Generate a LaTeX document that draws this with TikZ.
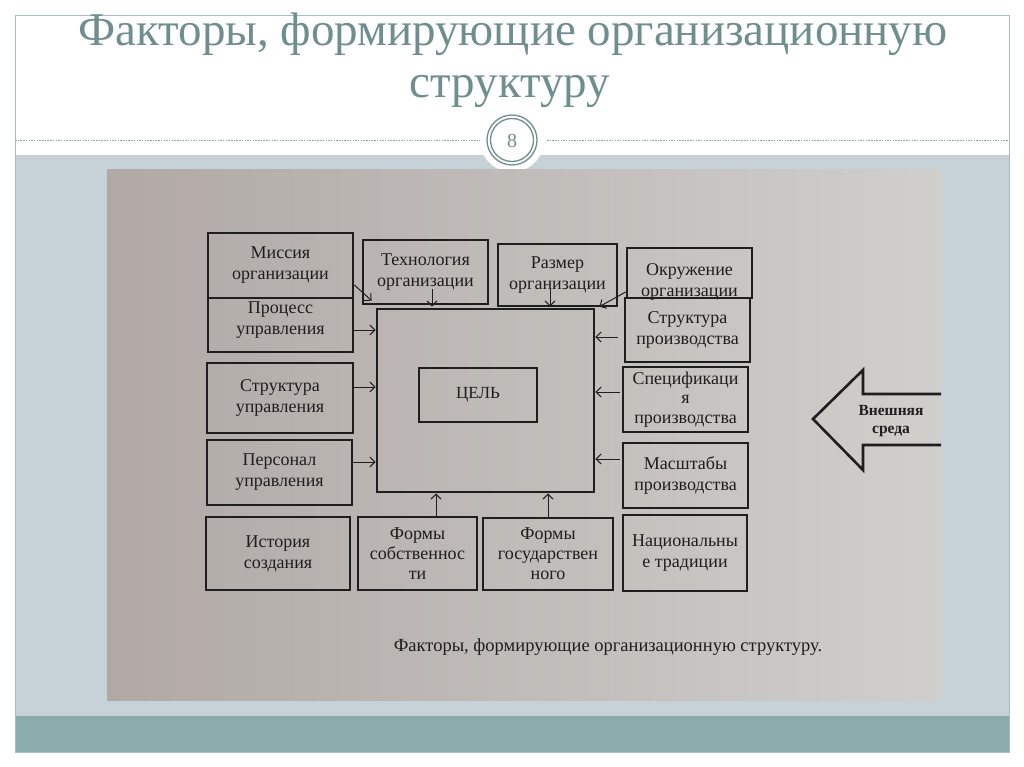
\documentclass[tikz,border=0pt]{standalone}
\usepackage{fontspec}
\setmainfont{Liberation Serif}
\newfontfamily\titlefont{Liberation Serif}
\usetikzlibrary{arrows.meta}
\definecolor{band}{HTML}{C6D2D8}
\definecolor{tealband}{HTML}{8AACAC}
\definecolor{titlec}{HTML}{6F8E8E}
\definecolor{framec}{HTML}{A9BCC3}
\definecolor{dashc}{HTML}{8FA6A6}
\definecolor{paperL}{HTML}{B0A9A5}
\definecolor{paperM}{HTML}{C9C7C4}
\definecolor{paperR}{HTML}{D0CFCC}
\definecolor{ink}{HTML}{1E1E1E}
\tikzset{
  box/.style={draw=ink, line width=2.7pt, inner sep=0pt, align=center,
    text=ink, font=\fontsize{18}{21}\selectfont},
  txt/.style={inner sep=0pt, align=center, text=ink,
    font=\fontsize{18}{21}\selectfont},
  arr/.style={draw=ink, line width=1pt, -{Straight Barb[length=5pt,width=10pt]}},
}
\begin{document}
\begin{tikzpicture}[x=1pt,y=-1pt]
\useasboundingbox (0,0) rectangle (1024,767);
\fill[white] (0,0) rectangle (1024,767);
\fill[band] (15,155) rectangle (1009,716);
\fill[tealband] (15,716) rectangle (1009,752);
\draw[framec, line width=0.8pt] (15,15) rectangle (1009,752);
\draw[dashc, line width=0.8pt, dash pattern=on 1.5pt off 1.2pt] (15,140) -- (480,140);
\draw[dashc, line width=0.8pt, dash pattern=on 1.5pt off 1.2pt] (547,140) -- (1009,140);
\fill[white] (512,140) circle (32);
\draw[titlec, line width=1.3pt] (512,140) circle (25);
\draw[titlec, line width=1.3pt] (512,140) circle (21.5);
\node[text=titlec, font=\fontsize{20}{20}\selectfont] (pg) at (512,141) {8};
% titles
\node[text=titlec, font=\titlefont\fontsize{47}{47}\selectfont, anchor=base, inner sep=0pt] (t1) at (513,46) {Факторы, формирующие организационную};
\node[text=titlec, font=\titlefont\fontsize{47}{47}\selectfont, anchor=base, inner sep=0pt] (t2) at (510,98) {структуру};
% photo
\shade[left color=paperL, middle color=paperM, right color=paperR] (107,170) rectangle (941,700);
% boxes
\node[box, minimum width=145pt, minimum height=65pt] (mis) at (280.5,265.5) {Миссия\\организации};
\node[box, minimum width=145pt, minimum height=54pt] (proc) at (280.5,325) {};
\node[txt] (proct) at (280.5,320) {Процесс\\управления};
\node[box, minimum width=125pt, minimum height=64pt] (tech) at (425.5,272) {Технология\\организации};
\node[box, minimum width=119pt, minimum height=62pt] (razm) at (557.5,275) {Размер\\организации};
\node[box, minimum width=125pt, minimum height=50pt] (okr) at (689.5,273) {};
\node[txt] (okrt) at (689.5,282) {Окружение\\организации};
\node[box, minimum width=125pt, minimum height=64pt] (strpr) at (687.5,330) {Структура\\производства};
\node[box, minimum width=125pt, minimum height=65pt, font=\fontsize{18}{19.5}\selectfont] (spec) at (685.5,399.5) {Спецификаци\\я\\производства};
\node[box, minimum width=125pt, minimum height=65pt] (masht) at (685.5,475.5) {Масштабы\\производства};
\node[box, minimum width=124pt, minimum height=76pt] (nac) at (685,553) {Национальны\\е традиции};
\node[box, minimum width=217pt, minimum height=183pt] (big) at (485.5,400.5) {};
\node[box, minimum width=118pt, minimum height=54pt, font=\fontsize{17}{17}\selectfont] (goal) at (478,395) {ЦЕЛЬ};
\node[box, minimum width=146pt, minimum height=70pt] (strupr) at (280,398) {Структура\\управления};
\node[box, minimum width=145pt, minimum height=65pt] (pers) at (279.5,472.5) {Персонал\\управления};
\node[box, minimum width=144pt, minimum height=73pt] (hist) at (278,553.5) {История\\создания};
\node[box, minimum width=119pt, minimum height=73pt, font=\fontsize{18}{20}\selectfont] (fsob) at (417.5,553.5) {Формы\\собственнос\\ти};
\node[box, minimum width=130pt, minimum height=72pt, font=\fontsize{18}{20}\selectfont] (fgos) at (548,554) {Формы\\государствен\\ного};
% arrows
\draw[arr] ([yshift=-19.5pt]mis.east) -- ([xshift=-4pt,yshift=7pt]big.north west);
\draw[arr] ([xshift=6.5pt,yshift=16pt]tech.south) -- ([xshift=6.5pt,yshift=1pt]tech.south |- big.north);
\draw[arr] ([xshift=-7.5pt,yshift=18pt]razm.south) -- ([xshift=-7.5pt,yshift=1pt]razm.south |- big.north);
\draw[arr] ([yshift=-19pt]okr.west) -- ([xshift=4pt,yshift=1pt]big.north east);
\draw[arr] ([yshift=-5pt]proc.east) -- ([yshift=-5pt]big.west |- proc.east);
\draw[arr] ([yshift=11pt]strupr.east) -- ([yshift=11pt]big.west |- strupr.east);
\draw[arr] ([yshift=10.5pt]pers.east) -- ([yshift=10.5pt]big.west |- pers.east);
\draw[arr, shorten <=6pt] ([yshift=-7pt]strpr.west) -- ([yshift=-7pt]big.east |- strpr.west);
\draw[arr, shorten <=2pt] ([yshift=7.5pt]spec.west) -- ([yshift=7.5pt]big.east |- spec.west);
\draw[arr, shorten <=2pt] ([yshift=16.5pt]masht.west) -- ([yshift=16.5pt]big.east |- masht.west);
\draw[arr] ([xshift=18.5pt]fsob.north) -- ([xshift=18.5pt]fsob.north |- big.south);
\draw[arr] (fgos.north) -- (fgos.north |- big.south);
% external environment arrow
\draw[ink, line width=2.6pt, line join=miter] (941,394) -- (863,394) -- (863,370) -- (813,419) -- (863,470) -- (863,445) -- (941,445);
\node[txt, font=\bfseries\fontsize{15.5}{18}\selectfont] (ext) at (891,421) {Внешняя\\среда};
% caption
\node[txt, font=\fontsize{18.5}{18.5}\selectfont] (cap) at (608,647) {Факторы, формирующие организационную структуру.};
\end{tikzpicture}
\end{document}
